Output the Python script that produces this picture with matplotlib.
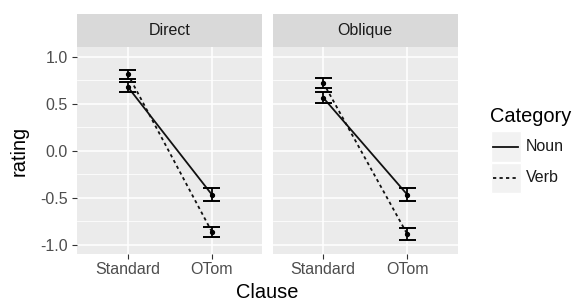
import matplotlib.pyplot as plt
from matplotlib.patches import Rectangle
from matplotlib.lines import Line2D

plt.rcParams['font.family'] = ['Liberation Sans', 'DejaVu Sans']

panels = ['Direct', 'Oblique']
clauses = ['Standard', 'OTom']
categories = ['Noun', 'Verb']

# mean rating and error half-width, per panel and category (Standard, OTom)
means = {
    'Direct': {'Noun': [0.68, -0.465], 'Verb': [0.815, -0.86]},
    'Oblique': {'Noun': [0.565, -0.465], 'Verb': [0.725, -0.885]},
}
errs = {
    'Direct': {'Noun': [0.056, 0.065], 'Verb': [0.048, 0.055]},
    'Oblique': {'Noun': [0.056, 0.07], 'Verb': [0.053, 0.06]},
}
styles = {'Noun': '-', 'Verb': (0, (1.8, 1.8))}

W, H = 574, 301
fig = plt.figure(figsize=(W / 100, H / 100), dpi=100)
fig.patch.set_facecolor('white')


def box(x0, y0, x1, y1):
    return [x0 / W, 1 - y1 / H, (x1 - x0) / W, (y1 - y0) / H]


panel_x = [(77.3, 262.3), (272.7, 457.7)]
ytk = [-1.0, -0.5, 0.0, 0.5, 1.0]
ymin = [-0.75, -0.25, 0.25, 0.75]

for i, name in enumerate(panels):
    x0, x1 = panel_x[i]
    ax = fig.add_axes(box(x0, 46.7, x1, 254))
    ax.set_facecolor('#EBEBEB')
    for s in ax.spines.values():
        s.set_visible(False)
    ax.set_xlim(0.4, 2.6)
    ax.set_ylim(-1.096, 1.106)
    for y in ymin:
        ax.axhline(y, color='white', lw=0.55, zorder=0)
    for y in ytk:
        ax.axhline(y, color='white', lw=1.1, zorder=0)
    for x in [1, 2]:
        ax.axvline(x, color='white', lw=1.1, zorder=0)

    xs = [1, 2]
    for cat in categories:
        m = means[name][cat]
        e = errs[name][cat]
        ax.plot(xs, m, color='#111111', lw=1.3, linestyle=styles[cat], zorder=3)
        ax.plot(xs, m, 'o', color='black', ms=2.8, zorder=4)
        lo = [a - b for a, b in zip(m, e)]
        hi = [a + b for a, b in zip(m, e)]
        ax.vlines(xs, lo, hi, color='black', lw=1.3, zorder=3)
        ax.hlines(lo, [x - 0.1 for x in xs], [x + 0.1 for x in xs], color='black', lw=1.4, zorder=3)
        ax.hlines(hi, [x - 0.1 for x in xs], [x + 0.1 for x in xs], color='black', lw=1.4, zorder=3)

    ax.set_xticks([1, 2])
    ax.set_xticklabels(clauses)
    ax.set_yticks(ytk)
    ax.set_yticklabels(['-1.0', '-0.5', '0.0', '0.5', '1.0'])
    ax.tick_params(axis='both', colors='#333333', labelcolor='#4D4D4D', labelsize=11.5,
                   length=3.6, width=0.8)
    ax.tick_params(axis='x', pad=2.5)
    ax.tick_params(axis='y', pad=3.4)
    if i == 1:
        ax.tick_params(axis='y', left=False, labelleft=False)

    # facet strip
    sax = fig.add_axes(box(x0, 14.3, x1, 46.7))
    sax.set_facecolor('#D9D9D9')
    sax.set_xticks([])
    sax.set_yticks([])
    for s in sax.spines.values():
        s.set_visible(False)
    sax.text(0.5, 0.5, name, ha='center', va='center', fontsize=11.5, color='#1A1A1A',
             transform=sax.transAxes)

fig.text(19 / W, 1 - 151 / H, 'rating', rotation=90, ha='center', va='center', fontsize=14.4)
fig.text(267.5 / W, 1 - 293 / H, 'Clause', ha='center', va='center', fontsize=14.4)

# legend
lax = fig.add_axes([0, 0, 1, 1])
lax.set_xlim(0, W)
lax.set_ylim(H, 0)
lax.axis('off')
lax.text(490, 117, 'Category', ha='left', va='center', fontsize=14.4)
key_y = [(131, 162), (163, 193)]
for cat, (k0, k1) in zip(categories, key_y):
    lax.add_patch(Rectangle((490.5, k0), 30.5, k1 - k0, facecolor='#F2F2F2', edgecolor='white', lw=1))
    cy = (k0 + k1) / 2
    lax.add_line(Line2D([493, 518], [cy, cy], color='#111111', lw=1.3, linestyle=styles[cat]))
    lax.text(526, cy, cat, ha='left', va='center', fontsize=11.5, color='#1A1A1A')

fig.savefig('out.png', dpi=100)
